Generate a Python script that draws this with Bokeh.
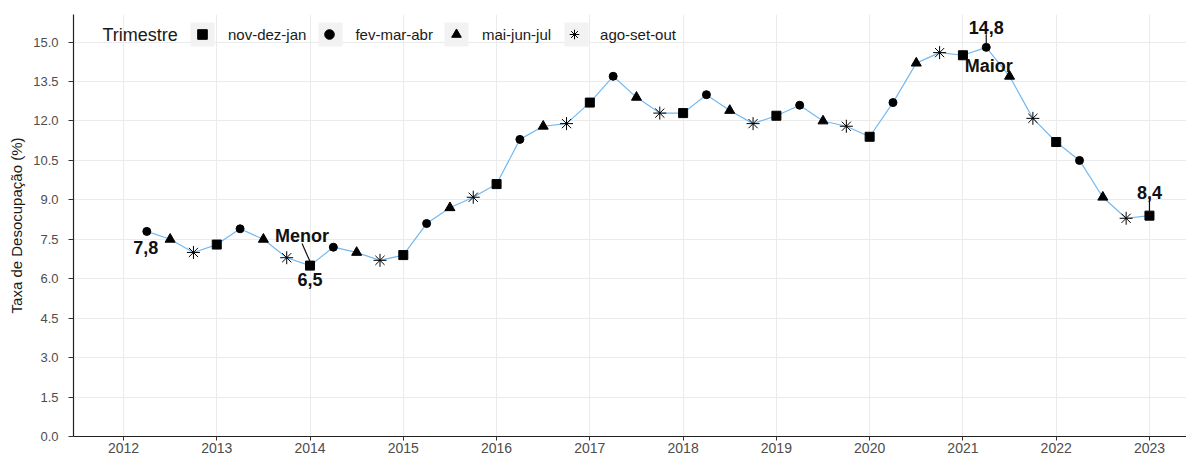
from bokeh.plotting import figure
from bokeh.models import (FixedTicker, NumeralTickFormatter, Legend, LegendItem,
                          ColumnDataSource, Label)
from bokeh.core.properties import value
from bokeh.embed import file_html
from bokeh.resources import INLINE

# ---------------- data ----------------
periodo = [2012.25, 2012.5, 2012.75,
           2013.0, 2013.25, 2013.5, 2013.75,
           2014.0, 2014.25, 2014.5, 2014.75,
           2015.0, 2015.25, 2015.5, 2015.75,
           2016.0, 2016.25, 2016.5, 2016.75,
           2017.0, 2017.25, 2017.5, 2017.75,
           2018.0, 2018.25, 2018.5, 2018.75,
           2019.0, 2019.25, 2019.5, 2019.75,
           2020.0, 2020.25, 2020.5, 2020.75,
           2021.0, 2021.25, 2021.5, 2021.75,
           2022.0, 2022.25, 2022.5, 2022.75,
           2023.0]
taxa = [7.8, 7.5, 7.0,
        7.3, 7.9, 7.5, 6.8,
        6.5, 7.2, 7.0, 6.7,
        6.9, 8.1, 8.7, 9.1,
        9.6, 11.3, 11.8, 11.9,
        12.7, 13.7, 12.9, 12.3,
        12.3, 13.0, 12.4, 11.9,
        12.2, 12.6, 12.0, 11.8,
        11.4, 12.7, 14.2, 14.6,
        14.5, 14.8, 13.7, 12.1,
        11.2, 10.5, 9.1, 8.3,
        8.4]
trimestres = ["nov-dez-jan", "fev-mar-abr", "mai-jun-jul", "ago-set-out"]
fracao_trimestre = [0.0, 0.25, 0.5, 0.75]
marcadores = ["square", "circle", "triangle", "asterisk"]
tamanhos = [9, 8, 10, 13]
x_ticks = [2012, 2013, 2014, 2015, 2016, 2017, 2018, 2019, 2020, 2021, 2022, 2023]
y_ticks = [0.0, 1.5, 3.0, 4.5, 6.0, 7.5, 9.0, 10.5, 12.0, 13.5, 15.0]

# ---------------- layout ----------------
W, H = 1186, 456
BL, BR, BT, BB = 73, 0, 14, 20
FW, FH = W - BL - BR, H - BT - BB
X0 = 2011.464
X1 = X0 + FW / 93.27
Y0, Y1 = 0.0, 16.05
ppx = FW / (X1 - X0)
ppy = FH / (Y1 - Y0)
FONT = "Liberation Sans"

def fx(px):  # frame pixel (from left) -> data x
    return X0 + px / ppx

def fy(py):  # frame pixel (from top) -> data y
    return Y1 - py / ppy

p = figure(width=W, height=H, x_range=(X0, X1), y_range=(Y0, Y1),
           output_backend="svg", toolbar_location=None,
           min_border_left=BL, min_border_right=BR,
           min_border_top=BT, min_border_bottom=BB)
p.outline_line_color = None
p.background_fill_color = "white"
p.border_fill_color = "white"

# axes
p.xaxis.ticker = FixedTicker(ticks=x_ticks)
p.xaxis.formatter = NumeralTickFormatter(format="0")
p.yaxis.ticker = FixedTicker(ticks=y_ticks)
p.yaxis.formatter = NumeralTickFormatter(format="0.0")
for ax in (p.xaxis[0], p.yaxis[0]):
    ax.axis_line_color = "#222222"
    ax.axis_line_width = 1.2
    ax.major_tick_line_color = "#333333"
    ax.major_tick_in = 0
    ax.minor_tick_line_color = None
    ax.major_label_text_font = FONT
    ax.major_label_text_color = "#4D4D4D"
p.xaxis.major_tick_out = 4
p.xaxis.major_label_standoff = 2
p.xaxis.major_label_text_font_size = "14px"
p.yaxis.major_tick_out = 5
p.yaxis.major_label_standoff = 10
p.yaxis.major_label_text_font_size = "13px"
p.yaxis.axis_label = "Taxa de Desocupação (%)"
p.yaxis.axis_label_text_font = FONT
p.yaxis.axis_label_text_font_size = "15px"
p.yaxis.axis_label_text_font_style = "normal"
p.yaxis.axis_label_text_color = "#1a1a1a"
p.yaxis.axis_label_standoff = 5

# grid
p.xgrid.ticker = FixedTicker(ticks=x_ticks)
p.ygrid.ticker = FixedTicker(ticks=y_ticks)
p.xgrid.grid_line_color = "#EBEBEB"
p.ygrid.grid_line_color = "#EBEBEB"

# legend key backgrounds (grey boxes behind the legend glyphs)
key_px = [129, 257, 383, 503]
p.rect(x=[fx(k) for k in key_px], y=[fy(20)] * len(key_px), width=24, height=24,
       width_units="screen", height_units="screen",
       fill_color="#F2F2F2", line_color=None)

# line
p.line(periodo, taxa, line_color="#74B9F0", line_width=1.2)

items = []
for nome, frac, marca, tam in zip(trimestres, fracao_trimestre, marcadores, tamanhos):
    xs = [x for x in periodo if abs((x % 1) - frac) < 1e-6]
    ys = [y for x, y in zip(periodo, taxa) if abs((x % 1) - frac) < 1e-6]
    src = ColumnDataSource(dict(x=xs, y=ys))
    r = p.scatter("x", "y", source=src, marker=marca, size=tam,
                  fill_color="black", line_color="black", line_width=1)
    items.append(LegendItem(label=nome, renderers=[r]))

legend = Legend(items=items, orientation="horizontal",
                location=(117, FH - 32),
                glyph_width=24, glyph_height=24, label_standoff=14, spacing=11,
                padding=0, margin=0, background_fill_alpha=0, border_line_alpha=0,
                label_text_font=FONT, label_text_font_size="15px",
                label_text_color="#1a1a1a", label_height=24)
p.add_layout(legend)

p.add_layout(Label(x=fx(29), y=fy(20), text="Trimestre",
                   text_font=FONT, text_font_size="18px", text_color="#1a1a1a",
                   text_align="left", text_baseline="middle"))

# annotations
def fmt(v):
    return f"{v:.1f}".replace(".", ",")

i_min = taxa.index(min(taxa))
i_max = taxa.index(max(taxa))
i_ini, i_fim = 0, len(taxa) - 1

ax_, ay_, at_ = [], [], []
def add(i, dxp, dyp, txt):
    ax_.append(periodo[i] + dxp / ppx)
    ay_.append(taxa[i] - dyp / ppy)
    at_.append(txt)

add(i_ini, -1, 16, fmt(taxa[i_ini]))
add(i_min, -8, -30, "Menor")
add(i_min, 0, 14, fmt(taxa[i_min]))
add(i_max, 0, -19.5, fmt(taxa[i_max]))
add(i_max, 2.5, 19, "Maior")
add(i_fim, 0, -23.5, fmt(taxa[i_fim]))

p.text(x=ax_, y=ay_, text=at_, text_font=value(FONT), text_font_style="bold",
       text_font_size="18px", text_align="center", text_baseline="middle",
       text_color="#111111")

sx0, sy0, sx1, sy1 = [], [], [], []
def seg(i, dx0, dy0, dx1, dy1):
    sx0.append(periodo[i] + dx0 / ppx); sy0.append(taxa[i] + dy0 / ppy)
    sx1.append(periodo[i] + dx1 / ppx); sy1.append(taxa[i] + dy1 / ppy)

seg(i_min, -8, 22, 0, 4)
seg(i_max, 0, 13, 0, 3)
seg(i_fim, 0, 17.5, 0, 3.5)
p.segment(x0=sx0, y0=sy0, x1=sx1, y1=sy1, line_color="#111111", line_width=1.2)

open("out.html", "w").write(file_html(p, INLINE))
